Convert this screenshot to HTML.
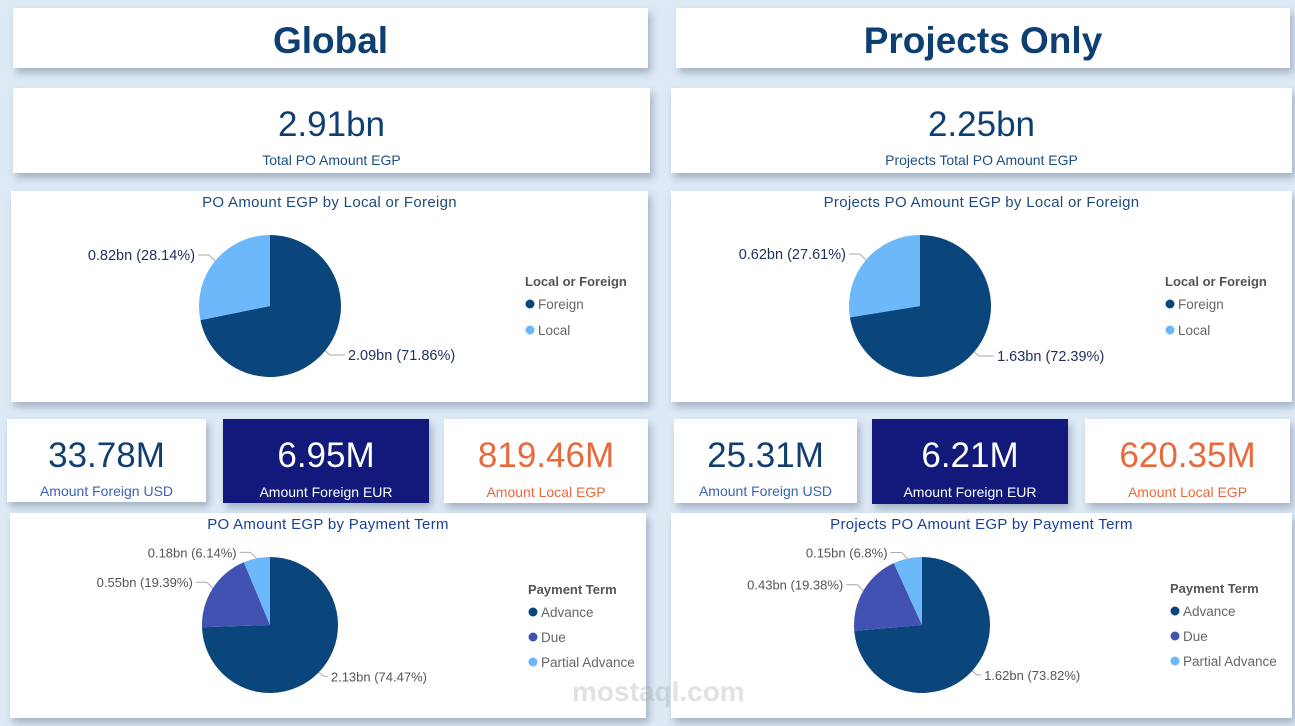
<!DOCTYPE html>
<html><head><meta charset="utf-8">
<style>
body{margin:0;width:1295px;height:726px;background:#dde9f5;font-family:"Liberation Sans",sans-serif;position:relative;overflow:hidden}
.card{position:absolute;background:#fff;box-shadow:3px 5px 7px rgba(60,80,110,.35)}
.hdr{font-weight:bold;font-size:37px;color:#0e3f72;text-align:center;line-height:66px}
.big{position:absolute;left:0;right:0;text-align:center;font-size:35px;color:#0e3f72}
.sub{position:absolute;left:0;right:0;text-align:center;font-size:14px;color:#1d4f85}
.ctitle{position:absolute;left:0;right:0;top:3px;text-align:center;font-size:15px;color:#1e4a7c;letter-spacing:.3px}
svg text{font-family:"Liberation Sans",sans-serif}
</style></head><body>
<div class="card" style="left:13px;top:8px;width:635px;height:60px"><div class="hdr">Global</div></div>
<div class="card" style="left:676px;top:8px;width:614px;height:60px"><div class="hdr">Projects Only</div></div>

<div class="card" style="left:13px;top:88px;width:637px;height:85px"><div class="big" style="top:17px">2.91bn</div><div class="sub" style="top:64px">Total PO Amount EGP</div></div>
<div class="card" style="left:671px;top:88px;width:621px;height:85px"><div class="big" style="top:17px">2.25bn</div><div class="sub" style="top:64px">Projects Total PO Amount EGP</div></div>

<div class="card" style="left:11px;top:191px;width:637px;height:211px"><div class="ctitle">PO Amount EGP by Local or Foreign</div></div>
<div class="card" style="left:671px;top:191px;width:621px;height:211px"><div class="ctitle">Projects PO Amount EGP by Local or Foreign</div></div>

<div class="card" style="left:7px;top:419px;width:199px;height:83px"><div class="big" style="top:17px;color:#123f6f">33.78M</div><div class="sub" style="top:64px;color:#3a62b5">Amount Foreign USD</div></div>
<div class="card" style="left:223px;top:419px;width:206px;height:84px;background:#12197a"><div class="big" style="top:17px;color:#fff">6.95M</div><div class="sub" style="top:65px;color:#fff">Amount Foreign EUR</div></div>
<div class="card" style="left:444px;top:419px;width:204px;height:84px"><div class="big" style="top:17px;color:#e8693b">819.46M</div><div class="sub" style="top:65px;color:#e8693b">Amount Local EGP</div></div>

<div class="card" style="left:674px;top:419px;width:183px;height:84px"><div class="big" style="top:17px;color:#123f6f">25.31M</div><div class="sub" style="top:64px;color:#3a62b5">Amount Foreign USD</div></div>
<div class="card" style="left:872px;top:419px;width:196px;height:85px;background:#12197a"><div class="big" style="top:17px;color:#fff">6.21M</div><div class="sub" style="top:65px;color:#fff">Amount Foreign EUR</div></div>
<div class="card" style="left:1085px;top:419px;width:205px;height:84px"><div class="big" style="top:17px;color:#e8693b">620.35M</div><div class="sub" style="top:65px;color:#e8693b">Amount Local EGP</div></div>

<div class="card" style="left:10px;top:513px;width:636px;height:205px"><div class="ctitle" style="color:#1a3f9a">PO Amount EGP by Payment Term</div></div>
<div class="card" style="left:671px;top:513px;width:621px;height:205px"><div class="ctitle" style="color:#1a3f9a">Projects PO Amount EGP by Payment Term</div></div>

<svg id="charts" width="1295" height="726" style="position:absolute;left:0;top:0"></svg>
<div style="position:absolute;left:572px;top:676px;font-size:28px;font-weight:bold;color:rgba(160,160,160,.3)">mostaql.com</div>

<script>
const lfCategories = ["Foreign","Local"];
const globalLF = [2.09, 0.82];
const globalLFpct = ["71.86%","28.14%"];
const projectsLF = [1.63, 0.62];
const projectsLFpct = ["72.39%","27.61%"];
const ptCategories = ["Advance","Due","Partial Advance"];
const globalPT = [2.13, 0.55, 0.18];
const globalPTpct = ["74.47%","19.39%","6.14%"];
const projectsPT = [1.62, 0.43, 0.15];
const projectsPTpct = ["73.82%","19.38%","6.8%"];

const NS="http://www.w3.org/2000/svg";
const svg=document.getElementById('charts');
function mk(tag,attrs,parent){const e=document.createElementNS(NS,tag);for(const k in attrs)e.setAttribute(k,attrs[k]);(parent||svg).appendChild(e);return e;}

function pie(cx,cy,r,vals,pcts,cats,colors,name,labelColor,fs,rOff,legX,legY,legTitle,legGap){
  const g=mk('g',{});
  
  
  const tot=vals.reduce((a,b)=>a+b,0);
  let a0=0;
  vals.forEach((v,i)=>{
    const a1=a0+v/tot*Math.PI*2;
    const p=(a)=>[cx+r*Math.sin(a),cy-r*Math.cos(a)];
    const [x0,y0]=p(a0),[x1,y1]=p(a1);
    const large=(a1-a0)>Math.PI?1:0;
    const s=mk('path',{d:`M${cx},${cy}L${x0},${y0}A${r},${r} 0 ${large} 1 ${x1},${y1}Z`,fill:colors[i]},g);
    
    
    const am=(a0+a1)/2;
    const [mx,my]=p(am);
    const right=Math.sin(am)>0;
    const up=Math.cos(am)>0;
    const ly=my+(up?-6:4);
    const ex=mx+(right?5:-6);
    const tx=mx+(right?rOff:-20);
    mk('polyline',{points:`${mx},${my} ${ex},${ly} ${tx+(right?-3:3)},${ly}`,fill:'none',stroke:'#aaa','stroke-width':1},g);
    const t=mk('text',{x:tx,y:ly+5,'font-size':fs,fill:labelColor,'text-anchor':right?'start':'end'},g);
    t.textContent=vals[i].toFixed(2)+'bn ('+pcts[i]+')';
    
    
    a0=a1;
  });
  const lt=mk('text',{x:legX,y:legY,'font-size':13,'font-weight':'bold',fill:'#555'},g);
  lt.textContent=legTitle;
  
  
  cats.forEach((c,i)=>{
    const yy=legY+22+i*legGap;
    const d=mk('circle',{cx:legX+5,cy:yy-4,r:4.5,fill:colors[i]},g);
    
    
    const tt=mk('text',{x:legX+13,y:yy+1,'font-size':13.5,fill:'#666'},g);
    tt.textContent=c;
    
    
  });
}
const lfColors=['#0a457c','#6cb8fb'];
const ptColors=['#0a457c','#4252b2','#6cb8fb'];
pie(270,306,71,globalLF,globalLFpct,lfCategories,lfColors,'global-lf-pie','#1e2f5a',14.5,23,525,286,'Local or Foreign',26);
pie(920,306,71,projectsLF,projectsLFpct,lfCategories,lfColors,'projects-lf-pie','#1e2f5a',14.5,23,1165,286,'Local or Foreign',26);
pie(270,625,68,globalPT,globalPTpct,ptCategories,ptColors,'global-pt-pie','#555',13,12,528,594,'Payment Term',25);
pie(922,625,68,projectsPT,projectsPTpct,ptCategories,ptColors,'projects-pt-pie','#555',13,12,1170,593,'Payment Term',25);
</script>
</body></html>
